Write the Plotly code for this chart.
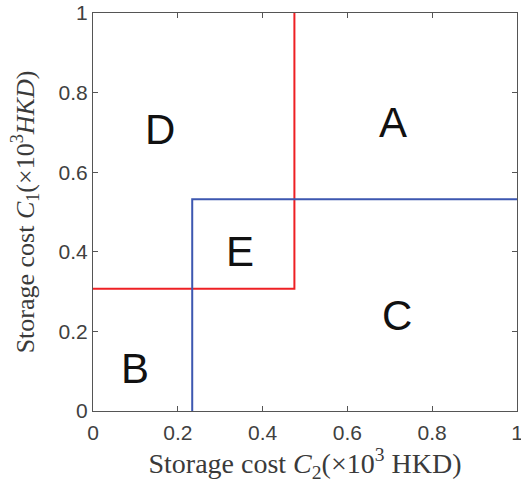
import plotly.graph_objects as go

# Boundary lines (x = C2, y = C1)
red_x = [0.475, 0.475, 0.0]
red_y = [1.0, 0.307, 0.307]
blue_x = [0.234, 0.234, 1.0]
blue_y = [0.0, 0.532, 0.532]

# Region labels
region_labels = ["A", "B", "C", "D", "E"]
region_x = [0.708, 0.100, 0.718, 0.159, 0.347]
region_y = [0.725, 0.107, 0.240, 0.707, 0.400]

tick_vals = [0, 0.2, 0.4, 0.6, 0.8, 1]
tick_text = ["0", "0.2", "0.4", "0.6", "0.8", "1"]

fig = go.Figure()
fig.add_trace(go.Scatter(x=red_x, y=red_y, mode="lines",
                         line=dict(color="#ee2024", width=2), showlegend=False))
fig.add_trace(go.Scatter(x=blue_x, y=blue_y, mode="lines",
                         line=dict(color="#3d57b0", width=2), showlegend=False))

for t, x, y in zip(region_labels, region_x, region_y):
    fig.add_annotation(x=x, y=y, text=t, showarrow=False, xref="x", yref="y",
                       font=dict(family="Liberation Sans", size=42, color="#111111"))

axis_common = dict(
    range=[0, 1], tickvals=tick_vals, ticktext=tick_text, automargin=False,
    ticklabeloverflow="allow",
    showgrid=False, zeroline=False, showline=True, linecolor="#555555", linewidth=1,
    mirror="ticks", ticks="inside", ticklen=5, tickcolor="#555555",
    tickfont=dict(family="Liberation Sans", size=21, color="#404040"),
)

fig.update_layout(
    width=521, height=485,
    margin=dict(l=93, r=4, t=13, b=74),
    paper_bgcolor="white", plot_bgcolor="white",
    xaxis=dict(**axis_common, ticklabelstandoff=3,
               title=dict(text="Storage cost <i>C</i><sub>2</sub>(×10<sup>3</sup> HKD)",
                          font=dict(family="Liberation Serif", size=28, color="#3a3a3a"),
                          standoff=6)),
    yaxis=dict(**axis_common,
               title=dict(text="Storage cost <i>C</i><sub>1</sub>(×10<sup>3</sup><i>HKD</i>)",
                          font=dict(family="Liberation Serif", size=26, color="#3a3a3a"),
                          standoff=16)),
)

fig.write_html("out.html", config={"displayModeBar": False},
               post_script="document.body.style.margin='0';")
